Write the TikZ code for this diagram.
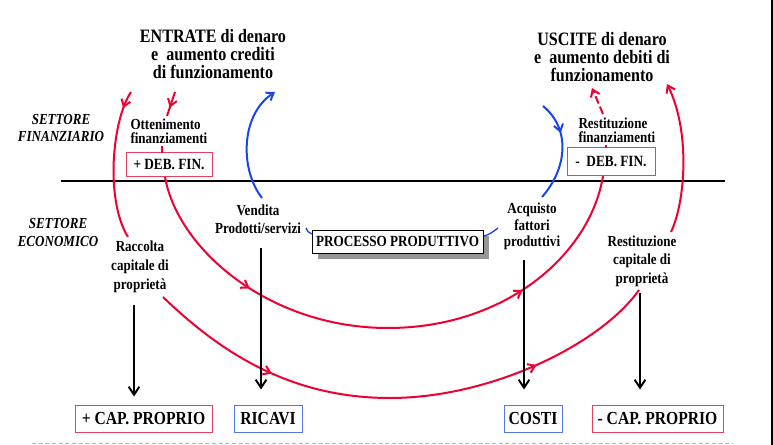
\documentclass[tikz,border=0pt]{standalone}
\usepackage{fontspec}
\setmainfont{Liberation Serif}[FakeStretch=0.85]
\usetikzlibrary{arrows.meta,decorations.markings}

\definecolor{flowred}{RGB}{240,0,50}
\definecolor{boxred}{RGB}{228,64,96}
\definecolor{flowblue}{RGB}{25,70,235}
\definecolor{boxblue}{RGB}{80,120,230}
\definecolor{sepblue}{RGB}{165,185,205}
\definecolor{shadowgray}{RGB}{150,150,150}

\tikzset{every picture/.style={line width=0.75pt}}
\tikzset{
	flowtip/.tip={Straight Barb[length=5pt,width=7pt]},
	downtip/.tip={Straight Barb[length=6pt,width=8pt]},
	redflow/.style={draw=flowred, line width=1.5pt},
	blueflow/.style={draw=flowblue, line width=1.5pt},
	blackflow/.style={draw=black, line width=1.5pt, -downtip},
	midtip/.style={postaction={decorate, decoration={markings, mark=at position #1 with {\arrow{flowtip}}}}},
	titletext/.style={font=\fontsize{14.2}{13.5}\selectfont\bfseries, align=center, inner sep=0pt},
	labeltext/.style={font=\fontsize{11.5}{#1}\selectfont\bfseries, align=center, inner sep=0pt},
	labeltext/.default=13.5,
	sectortext/.style={font=\fontsize{11.5}{#1}\selectfont\bfseries\itshape, align=center, inner sep=0pt},
	sectortext/.default=13.5,
	debbox/.style={draw=boxred, fill=white, inner sep=1pt, font=\fontsize{11.7}{12}\selectfont\bfseries},
	redbox/.style={draw=boxred, fill=white, inner sep=1pt, minimum height=20.25pt, font=\fontsize{13.8}{14}\selectfont\bfseries},
	bluebox/.style={draw=boxblue, fill=white, inner sep=1pt, minimum height=20.25pt, font=\fontsize{13.8}{14}\selectfont\bfseries},
}

\begin{document}
\begin{tikzpicture}[x=0.75pt,y=0.75pt,yscale=-1,xscale=1]
	\path[use as bounding box] (0,0) rectangle (773,445);
	
	%Straight Lines [separator, border, bottom rule]
	\draw[line width=1.5pt] (61,181) -- (725,181);
	\draw[line width=1.5pt] (772,0) -- (772,445);
	\draw[sepblue, dash pattern={on 3pt off 2pt}] (32,443) -- (733,443);
	
	% Text Node
	\node[titletext] (entrate) at (213,54.5) {ENTRATE di denaro\\e\ \ aumento crediti\\di funzionamento};
	% Text Node
	\node[titletext] (uscite) at (602,57.5) {USCITE di denaro\\e\ \ aumento debiti di\\funzionamento};
	% Text Node
	\node[sectortext=12.75] (setfin) at (61,128.5) {SETTORE\\FINANZIARIO};
	% Text Node
	\node[sectortext] (seteco) at (58,232) {SETTORE\\ECONOMICO};
	% Text Node
	\node[labeltext=10.75, align=left, anchor=west] (otten) at (130,131.5) {Ottenimento\\finanziamenti};
	% Text Node
	\node[labeltext=10.75, align=left, anchor=west] (restfin) at (578,130) {Restituzione\\finanziamenti};
	% Text Node
	\node[labeltext] (vendita) at (258,219) {Vendita\\Prodotti/servizi};
	% Text Node
	\node[labeltext=12.4] (acquisto) at (532,226.5) {Acquisto\\fattori\\produttivi};
	% Text Node
	\node[labeltext=14.2] (raccolta) at (140,267) {Raccolta\\capitale di\\propriet\`a};
	% Text Node
	\node[labeltext=14] (restcap) at (642,261) {Restituzione\\capitale di\\propriet\`a};
	
	%Shape: Rectangle [boxes]
	\node[debbox, minimum width=64.5pt, minimum height=18pt] (debp) at (169,165) {+ DEB. FIN.};
	\node[debbox, minimum width=66pt, minimum height=21pt] (debm) at (611,162) {-\ \ DEB. FIN.};
	\fill[shadowgray] (318,236) rectangle (489,259);
	\node[draw=black, fill=white, inner sep=1pt, minimum width=128.25pt, minimum height=17.25pt, font=\fontsize{11.6}{12}\selectfont\bfseries] (proc) at (397.5,241.5) {PROCESSO PRODUTTIVO};
	\node[redbox, minimum width=102.75pt] (capp) at (143.5,418.5) {+ CAP. PROPRIO};
	\node[bluebox, minimum width=51pt] (ricavi) at (268,418.5) {RICAVI};
	\node[bluebox, minimum width=43.5pt] (costi) at (533,418.5) {COSTI};
	\node[redbox, minimum width=98.25pt] (capm) at (657.5,418.5) {- CAP. PROPRIO};
	
	%Curve Lines [red flows]
	\coordinate (o1) at (131,92);
	\coordinate (o2) at (128,237);
	\draw[redflow, midtip=0.12] (o1) .. controls (112,120) and (105,200) .. (o2);
	\coordinate (i1) at (175,92);
	\coordinate (i2) at (167,116);
	\draw[redflow, midtip=0.65] (i1) -- (i2);
	\draw[redflow] (162,146) -- (162,153);
	\coordinate (a1) at (165,177);
	\coordinate (a2) at (603,176);
	\draw[redflow, midtip=0.25, midtip=0.75] (a1) .. controls (178,250) and (270,328) .. (388,328) .. controls (505,328) and (590,255) .. (a2);
	\draw[redflow] (606,145) -- (606,148);
	\coordinate (f1) at (603,114);
	\coordinate (f2) at (592,88);
	\draw[redflow, dash pattern={on 6pt off 2.5pt}, -flowtip] (f1) -- (f2);
	\coordinate (c1) at (163,297);
	\coordinate (c2) at (639,290);
	\draw[redflow, midtip=0.25, midtip=0.76] (c1) .. controls (220,352) and (290,398) .. (390,398) .. controls (490,398) and (600,345) .. (c2);
	\coordinate (g1) at (671,232);
	\coordinate (g2) at (667,84);
	\draw[redflow, -flowtip] (g1) .. controls (686,200) and (690,130) .. (g2);
	
	%Curve Lines [blue flows]
	\coordinate (b1) at (262,198);
	\coordinate (b2) at (275,92);
	\draw[blueflow, -flowtip] (b1) .. controls (240,170) and (240,115) .. (b2);
	\coordinate (b3) at (543,106);
	\coordinate (b4) at (542,197);
	\draw[blueflow, midtip=0.32] (b3) .. controls (572,130) and (566,170) .. (b4);
	\draw[draw=flowblue, line width=1pt] (306,228) .. controls (308,232) .. (312,234);
	\draw[draw=flowblue, line width=1pt] (484,236) .. controls (490,234) .. (498,228);
	
	%Straight Lines [black arrows]
	\coordinate (k1) at (134,305);
	\draw[blackflow, shorten >=6pt] (k1) -- (k1 |- capp.north);
	\coordinate (k2) at (261,248);
	\draw[blackflow, shorten >=11.25pt] (k2) -- (k2 |- ricavi.north);
	\coordinate (k3) at (524,260);
	\draw[blackflow, shorten >=11.25pt] (k3) -- (k3 |- costi.north);
	\coordinate (k4) at (640,293);
	\draw[blackflow, shorten >=11.25pt] (k4) -- (k4 |- capm.north);
	
\end{tikzpicture}
\end{document}
